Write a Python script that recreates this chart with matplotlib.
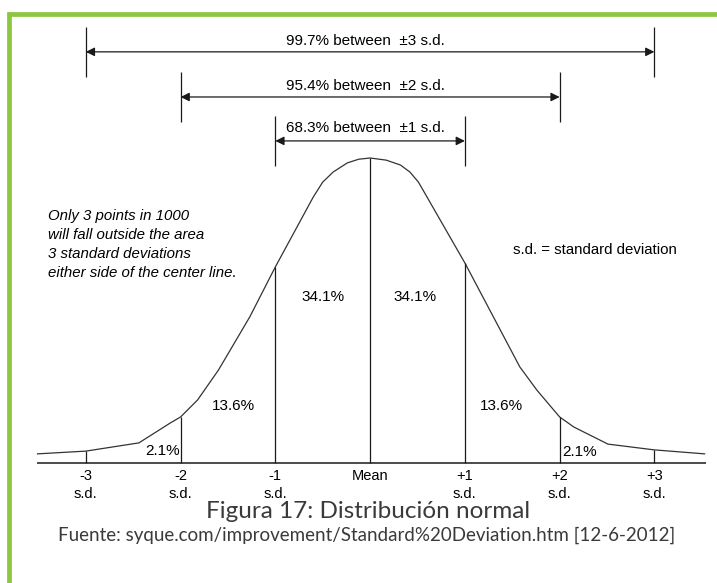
import numpy as np
import matplotlib
matplotlib.use("Agg")
import matplotlib.pyplot as plt
from matplotlib.lines import Line2D

# curve: x in s.d., height relative to the peak
curve_x = [-3.51, -3.0, -2.44, -2.11, -2.0, -1.82, -1.6, -1.27, -1.0, -0.6, -0.5, -0.39, -0.24, -0.12, 0.0,
           0.17, 0.32, 0.42, 0.51, 1.0, 1.58, 1.76, 2.0, 2.15, 2.51, 3.0, 3.53]
curve_y = [0.030, 0.039, 0.066, 0.131, 0.151, 0.207, 0.305, 0.479, 0.643, 0.872, 0.921, 0.954, 0.984, 0.996, 1.0,
           0.993, 0.977, 0.954, 0.921, 0.656, 0.315, 0.239, 0.151, 0.118, 0.062, 0.043, 0.030]

sd_marks = [-3, -2, -1, 0, 1, 2, 3]
mark_top = ["-3", "-2", "-1", "Mean", "+1", "+2", "+3"]
mark_bottom = ["s.d.", "s.d.", "s.d.", "", "s.d.", "s.d.", "s.d."]

area_labels = ["2.1%", "13.6%", "34.1%", "34.1%", "13.6%", "2.1%"]
area_x = [-2.19, -1.44, -0.50, 0.47, 1.39, 2.21]
area_y = [0.039, 0.187, 0.544, 0.544, 0.187, 0.036]

range_sd = [3, 2, 1]
range_labels = ["99.7% between  \u00b13 s.d.", "95.4% between  \u00b12 s.d.", "68.3% between  \u00b11 s.d."]
range_row = [1.348, 1.200, 1.056]
range_text_y = [1.384, 1.236, 1.098]

note = "Only 3 points in 1000\nwill fall outside the area\n3 standard deviations\neither side of the center line."
legend_note = "s.d. = standard deviation"
caption = "Figura 17: Distribuci\u00f3n normal"
source = "Fuente: syque.com/improvement/Standard%20Deviation.htm [12-6-2012]"

W, H = 717, 583
fig = plt.figure(figsize=(W / 100, H / 100), dpi=100)
fig.patch.set_facecolor("white")
ax = fig.add_axes([0, 0, 1, 1])
ax.set_xlim(-3.906, 3.661)
ax.set_ylim(-0.3934, 1.518)
ax.axis("off")

chart_font = "Liberation Sans"
ink = "#1a1a1a"

# baseline and curve
ax.plot([-3.52, 3.54], [0, 0], color=ink, lw=1.1, solid_capstyle="butt")
ax.plot(curve_x, curve_y, color="#333333", lw=0.9)

# vertical lines from baseline up to the curve
heights = np.interp(sd_marks, curve_x, curve_y)
ax.vlines(sd_marks, 0, heights, color=ink, lw=0.9)

for x, top, bottom in zip(sd_marks, mark_top, mark_bottom):
    ax.text(x, -0.043, top, ha="center", va="center", fontsize=10.5, family=chart_font)
    if bottom:
        ax.text(x, -0.102, bottom, ha="center", va="center", fontsize=10.5, family=chart_font)

for lab, x, y in zip(area_labels, area_x, area_y):
    ax.text(x, y, lab, ha="center", va="center", fontsize=11, family=chart_font)

# range arrows
for sd, lab, row, ty in zip(range_sd, range_labels, range_row, range_text_y):
    ax.vlines([-sd, sd], row - 0.082, row + 0.082, color=ink, lw=0.9)
    ax.annotate("", xy=(-sd, row), xytext=(sd, row),
                arrowprops=dict(arrowstyle="<|-|>", color=ink, lw=0.9,
                                mutation_scale=13, shrinkA=0, shrinkB=0))
    ax.text(-0.05, ty, lab, ha="center", va="center", fontsize=11, family=chart_font)

ax.text(-3.40, 0.833, note, ha="left", va="top", fontsize=10.8, style="italic",
        family=chart_font, linespacing=1.47)
ax.text(1.508, 0.698, legend_note, ha="left", va="center", fontsize=10.8, family=chart_font)

fig.text(0.514, (H - 518) / H, caption, ha="center", va="baseline", fontsize=17.5,
         family="Lato", color="#3a3a3a")
fig.text(0.511, (H - 541) / H, source, ha="center", va="baseline", fontsize=13.5,
         family="Lato", color="#3a3a3a")

# green frame (top and left edges)
green = "#8dc63f"
fig.lines.append(Line2D([7 / W, 1], [1 - 14 / H, 1 - 14 / H], transform=fig.transFigure,
                        color=green, lw=3.4, solid_capstyle="butt"))
fig.lines.append(Line2D([9 / W, 9 / W], [0, 1 - 12 / H], transform=fig.transFigure,
                        color=green, lw=3.4, solid_capstyle="butt"))

fig.savefig("out.png", dpi=100, facecolor="white")
